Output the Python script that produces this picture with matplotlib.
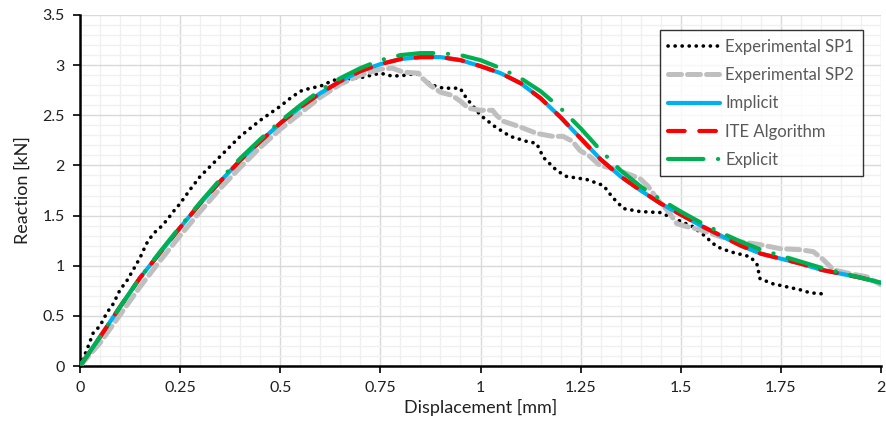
import matplotlib
matplotlib.use("Agg")
import matplotlib.pyplot as plt
from matplotlib.ticker import MultipleLocator, FixedLocator

plt.rcParams['font.family'] = ['Lato', 'DejaVu Sans']

# ---- data ----
sim_d = [0, 0.05, 0.1, 0.15, 0.2, 0.25, 0.3, 0.35, 0.4, 0.45, 0.5, 0.55, 0.6, 0.65, 0.7,
         0.75, 0.8, 0.85, 0.9, 0.95, 1.0, 1.05, 1.1, 1.15, 1.2, 1.25, 1.3, 1.35, 1.4, 1.45,
         1.5, 1.55, 1.6, 1.65, 1.7, 1.75, 1.8, 1.85, 1.9, 1.95, 2.0]
implicit_r = [0, 0.29, 0.59, 0.88, 1.13, 1.38, 1.62, 1.84, 2.05, 2.24, 2.42, 2.58, 2.72, 2.84,
              2.94, 3.01, 3.06, 3.08, 3.08, 3.05, 2.99, 2.92, 2.82, 2.67, 2.48, 2.27, 2.06,
              1.89, 1.75, 1.62, 1.51, 1.40, 1.30, 1.20, 1.12, 1.07, 1.02, 0.96, 0.92, 0.88, 0.83]
ite_r = [0, 0.29, 0.59, 0.88, 1.13, 1.38, 1.62, 1.84, 2.05, 2.24, 2.42, 2.58, 2.72, 2.84,
         2.94, 3.01, 3.06, 3.08, 3.08, 3.05, 2.99, 2.92, 2.82, 2.67, 2.48, 2.27, 2.06,
         1.89, 1.75, 1.62, 1.51, 1.40, 1.30, 1.20, 1.12, 1.07, 1.02, 0.96, 0.92, 0.88, 0.83]
explicit_r = [0, 0.29, 0.59, 0.88, 1.14, 1.39, 1.63, 1.86, 2.07, 2.26, 2.44, 2.60, 2.75, 2.87,
              2.97, 3.05, 3.10, 3.12, 3.12, 3.10, 3.05, 2.97, 2.87, 2.74, 2.57, 2.37, 2.15,
              1.95, 1.79, 1.66, 1.54, 1.43, 1.33, 1.24, 1.16, 1.10, 1.04, 0.98, 0.93, 0.88, 0.83]

sp1_d = [0, 0.017, 0.033, 0.05, 0.067, 0.083, 0.1, 0.117, 0.133, 0.15, 0.166, 0.183, 0.2, 0.216,
         0.233, 0.25, 0.275, 0.3, 0.325, 0.35, 0.375, 0.4, 0.425, 0.45, 0.475, 0.5, 0.525, 0.55,
         0.575, 0.6, 0.633, 0.666, 0.707, 0.75, 0.78, 0.816, 0.84, 0.857, 0.88, 0.907, 0.949,
         0.965, 1.0, 1.035, 1.074, 1.115, 1.14, 1.157, 1.19, 1.215, 1.265, 1.307, 1.33, 1.357,
         1.398, 1.448, 1.49, 1.53, 1.556, 1.59, 1.623, 1.673, 1.69, 1.698, 1.73, 1.764, 1.798,
         1.823, 1.852]
sp1_r = [0, 0.16, 0.33, 0.40, 0.53, 0.62, 0.76, 0.85, 0.96, 1.08, 1.22, 1.32, 1.38, 1.45,
         1.54, 1.62, 1.76, 1.89, 1.99, 2.09, 2.19, 2.29, 2.37, 2.45, 2.52, 2.59, 2.67, 2.74,
         2.77, 2.79, 2.85, 2.86, 2.88, 2.92, 2.89, 2.90, 2.92, 2.86, 2.80, 2.77, 2.77,
         2.67, 2.50, 2.39, 2.29, 2.24, 2.22, 2.08, 1.95, 1.89, 1.86, 1.80, 1.68, 1.57,
         1.54, 1.53, 1.46, 1.39, 1.31, 1.19, 1.14, 1.09, 1.02, 0.87, 0.82, 0.79, 0.76,
         0.73, 0.72]

sp2_d = [0, 0.05, 0.1, 0.15, 0.2, 0.25, 0.3, 0.35, 0.4, 0.45, 0.5, 0.55, 0.6, 0.65, 0.7, 0.75,
         0.78, 0.807, 0.845, 0.855, 0.874, 0.9, 0.928, 0.95, 0.97, 1.0, 1.03, 1.04, 1.057, 1.095,
         1.14, 1.18, 1.206, 1.23, 1.248, 1.273, 1.298, 1.33, 1.365, 1.398, 1.419, 1.44, 1.473,
         1.49, 1.515, 1.548, 1.598, 1.648, 1.698, 1.748, 1.798, 1.831, 1.856, 1.881, 1.923,
         1.964, 2.0]
sp2_r = [0, 0.23, 0.51, 0.79, 1.05, 1.30, 1.54, 1.77, 1.98, 2.18, 2.36, 2.52, 2.68, 2.81, 2.90,
         2.96, 2.97, 2.93, 2.92, 2.87, 2.80, 2.73, 2.70, 2.64, 2.57, 2.55, 2.55, 2.50, 2.44, 2.39,
         2.32, 2.29, 2.29, 2.24, 2.15, 2.09, 2.00, 1.97, 1.92, 1.87, 1.79, 1.67, 1.52,
         1.42, 1.39, 1.36, 1.29, 1.24, 1.21, 1.17, 1.16, 1.14, 1.06, 0.96, 0.92,
         0.89, 0.81]

x_ticks = [0, 0.25, 0.5, 0.75, 1, 1.25, 1.5, 1.75, 2]
x_labels = ['0', '0.25', '0.5', '0.75', '1', '1.25', '1.5', '1.75', '2']
y_ticks = [0, 0.5, 1, 1.5, 2, 2.5, 3, 3.5]
y_labels = ['0', '0.5', '1', '1.5', '2', '2.5', '3', '3.5']

# ---- figure ----
fig = plt.figure(figsize=(8.86, 4.26), dpi=100)
ax = fig.add_axes([80/886, 60/426, 801/886, 351/426])

ax.plot(sp1_d, sp1_r, color='black', lw=2.6, linestyle=(0, (0.05, 1.9)),
        dash_capstyle='round', solid_capstyle='round', label='Experimental SP1', zorder=3)
ax.plot(sp2_d, sp2_r, color='#BFBFBF', lw=3.6, linestyle=(0, (2.6, 1.2)),
        dash_capstyle='round', label='Experimental SP2', zorder=3)
ax.plot(sim_d, implicit_r, color='#00B0F0', lw=3.0, solid_capstyle='round',
        label='Implicit', zorder=4)
ax.plot(sim_d, ite_r, color='#FF0000', lw=3.0, linestyle=(0, (4, 3.5)),
        dash_capstyle='round', label='ITE Algorithm', zorder=5)
ax.plot(sim_d, explicit_r, color='#00B050', lw=3.0, linestyle=(0, (8.5, 3.5, 0.05, 3.5)),
        dash_capstyle='round', label='Explicit', zorder=6)

ax.set_xlim(0, 2)
ax.set_ylim(0, 3.5)
ax.xaxis.set_major_locator(FixedLocator(x_ticks))
ax.set_xticklabels(x_labels)
ax.yaxis.set_major_locator(FixedLocator(y_ticks))
ax.set_yticklabels(y_labels)
ax.xaxis.set_minor_locator(MultipleLocator(0.05))
ax.yaxis.set_minor_locator(MultipleLocator(0.1))

ax.grid(which='major', color='#D9D9D9', lw=1.0, zorder=0)
ax.grid(which='minor', color='#F0F0F0', lw=1.0, zorder=0)
ax.set_axisbelow(True)

for s in ['top', 'right']:
    ax.spines[s].set_visible(False)
for s in ['left', 'bottom']:
    ax.spines[s].set_linewidth(1.8)
    ax.spines[s].set_color('black')

ax.tick_params(which='major', direction='out', length=5, width=1.2, color='black',
               labelsize=11.5, labelcolor='#202020', pad=6)
ax.tick_params(which='minor', length=0)

ax.set_xlabel('Displacement [mm]', fontsize=13, color='#202020', labelpad=3)
ax.set_ylabel('Reaction [kN]', fontsize=13, color='#202020', labelpad=8)

leg = ax.legend(loc='upper right', bbox_to_anchor=(0.977, 0.956), fontsize=12,
                handlelength=3.1, handletextpad=0.35, labelspacing=0.74,
                borderpad=0.5, borderaxespad=0, frameon=True, fancybox=False)
leg.get_frame().set_edgecolor('black')
leg.get_frame().set_linewidth(1.0)
for t in leg.get_texts():
    t.set_color('#595959')

fig.savefig('out.png', dpi=100)
